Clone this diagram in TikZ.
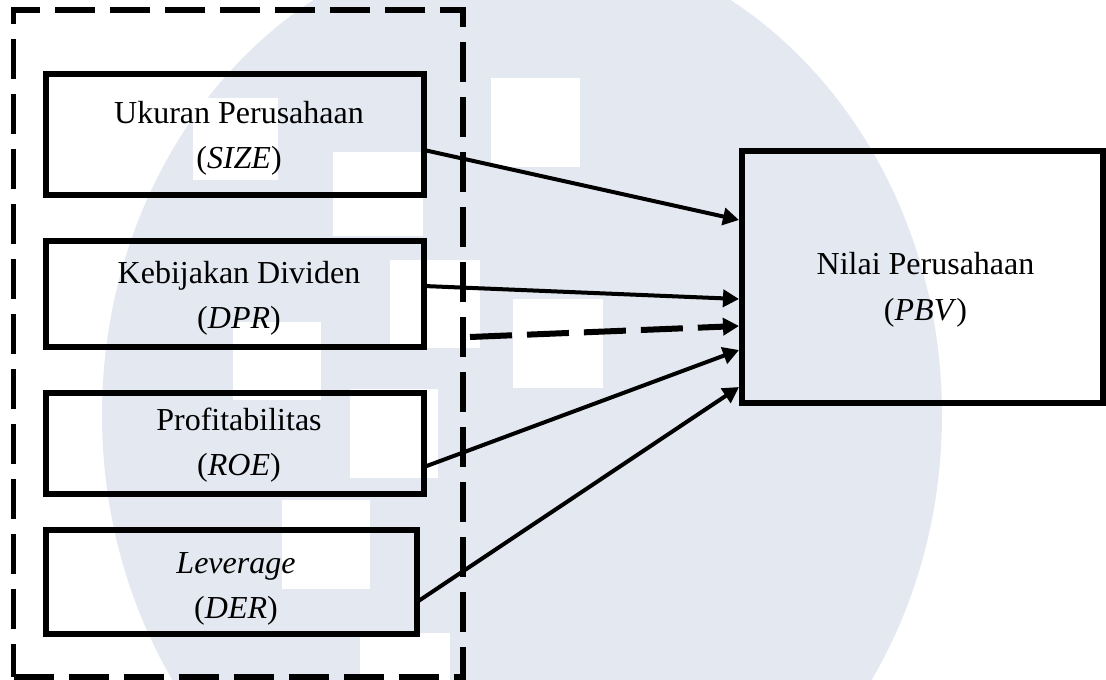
\documentclass[tikz,border=0pt]{standalone}
\usepackage{fontspec}
\setmainfont{Liberation Serif}
\usetikzlibrary{arrows.meta,calc}
\definecolor{wm}{RGB}{228,232,240}
\begin{document}
\begin{tikzpicture}[x=1pt,y=-1pt,
  box/.style={draw, line width=5.5pt, inner sep=0pt, outer sep=0pt, rectangle},
  grp/.style={draw, line width=5.5pt, dash pattern=on 40pt off 15pt, inner sep=0pt, outer sep=0pt, rectangle},
  lbl/.style={anchor=base, inner sep=0pt, font=\fontsize{32}{40}\selectfont},
  arr/.style={line width=4pt, -{Triangle[length=16pt,width=17pt]}},
  darr/.style={line width=6pt, dash pattern=on 42pt off 15pt, -{Triangle[length=16pt,width=17pt]}}]
\useasboundingbox (0,0) rectangle (1106,680);
% watermark
\fill[wm] (522,415) ellipse [x radius=420pt, y radius=478pt];
\fill[white] (491,78) rectangle ++(89,89);
\fill[white] (333,152) rectangle ++(90,84);
\fill[white] (390,260) rectangle ++(90,88);
\fill[white] (513,299) rectangle ++(90,89);
\fill[white] (233,322) rectangle ++(88,78);
\fill[white] (350,389) rectangle ++(88,89);
\fill[white] (282,500) rectangle ++(88,89);
\fill[white] (360,633) rectangle ++(90,47);
\fill[white] (193,98) rectangle ++(85,82);
% group
\node[grp, minimum width=449.5pt, minimum height=667pt] (grp) at (238.25,343.5) {};
% boxes
\node[box, minimum width=378pt, minimum height=121pt] (b1) at (235,134.5) {};
\node[box, minimum width=378pt, minimum height=106pt] (b2) at (235,294) {};
\node[box, minimum width=378pt, minimum height=101pt] (b3) at (235,443.5) {};
\node[box, minimum width=371pt, minimum height=104pt] (b4) at (231.5,582) {};
\node[box, minimum width=361pt, minimum height=252pt] (pbv) at (922.5,277) {};
% labels
\node[lbl] (t1a) at (239,123) {Ukuran Perusahaan};
\node[lbl] (t1b) at (239,168) {(\textit{SIZE})};
\node[lbl] (t2a) at (239,283) {Kebijakan Dividen};
\node[lbl] (t2b) at (239,328) {(\textit{DPR})};
\node[lbl] (t3a) at (239,430) {Profitabilitas};
\node[lbl] (t3b) at (239,475) {(\textit{ROE})};
\node[lbl] (t4a) at (236,573) {\textit{Leverage}};
\node[lbl] (t4b) at (236,618) {(\textit{DER})};
\node[lbl] (t5a) at (925.5,274) {Nilai Perusahaan};
\node[lbl] (t5b) at (925.5,320) {(\textit{PBV})};
% connectors
\coordinate (m) at ($(grp.east)+(7,-6.5)$);
\draw[arr] ($(b1.east)+(0,15.5)$) -- ($(pbv.west)+(-3,-57)$);
\draw[arr] ($(b2.east)+(0,-8)$) -- ($(pbv.west)+(-3,22)$);
\draw[darr] (m) -- ($(pbv.west)+(-3,49)$);
\draw[arr] ($(b3.east)+(0,23.5)$) -- ($(pbv.west)+(-3,73)$);
\draw[arr] ($(b4.east)+(0,20)$) -- ($(pbv.west)+(-3,110)$);
\end{tikzpicture}
\end{document}
